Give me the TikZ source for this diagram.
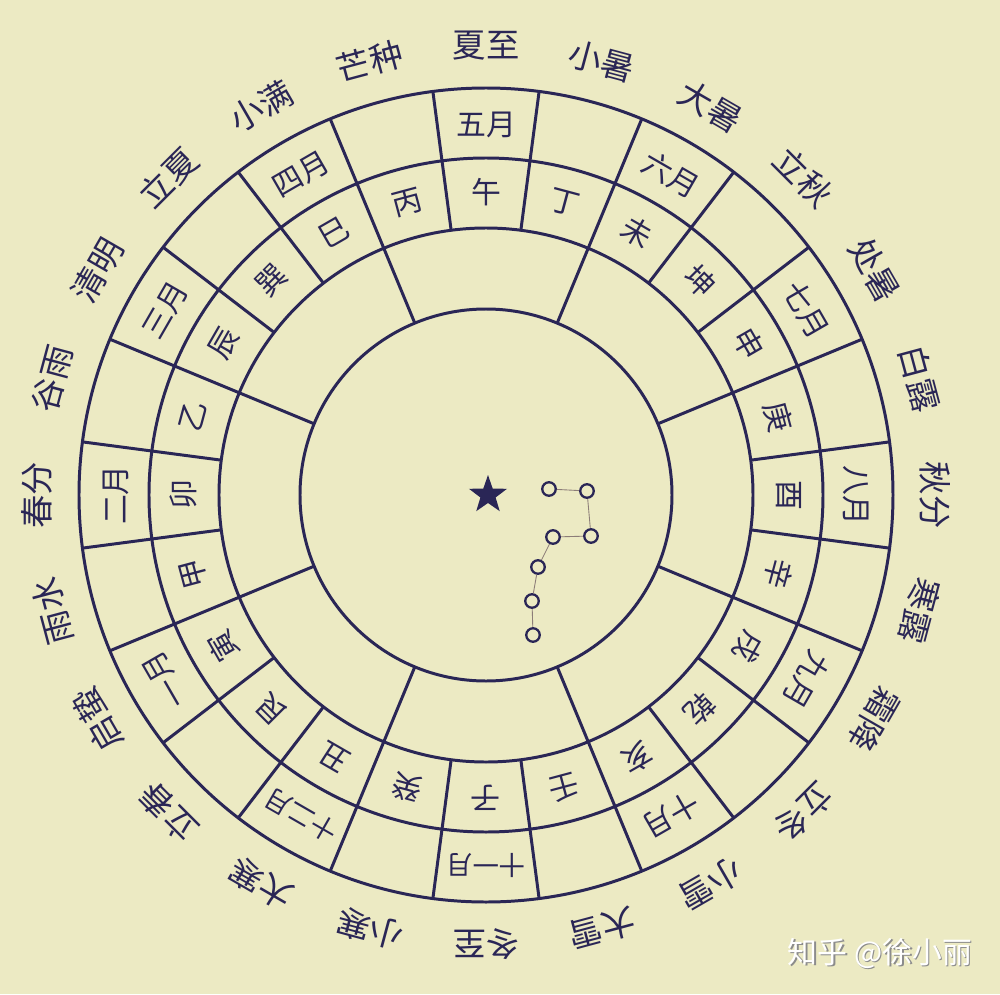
\documentclass[tikz,border=0pt]{standalone}
\usepackage{fontspec}
\setmainfont{Noto Sans CJK SC}
\usetikzlibrary{shapes.geometric}
\definecolor{tlo}{RGB}{236,234,195}
\definecolor{tusz}{RGB}{42,38,86}
\definecolor{kreska}{RGB}{140,125,120}

\begin{document}
\begin{tikzpicture}[x=0.02cm, y=0.02cm, line width=1.7pt, color=tusz,
    qi/.style={font=\fontsize{19}{19}\selectfont, inner sep=0pt},
    yue/.style={inner sep=0pt},
    shan/.style={font=\fontsize{17}{17}\selectfont, inner sep=0pt},
    xing/.style={circle, draw, line width=1.3pt, fill=tlo, minimum size=0.27cm, inner sep=0pt}]
  % 背景
  \fill[tlo] (-486,495) rectangle (514,-499);
  \useasboundingbox (-486,495) rectangle (514,-499);

  % 圆圈
  \foreach \r in {186,267,337,407}
    \draw (0,0) circle[radius=\r];

  % 分隔线
  \foreach \a in {7.5,22.5,...,352.5}
    \draw (\a:267) -- (\a:407);
  \foreach \a in {22.5,67.5,...,337.5}
    \draw (\a:186) -- (\a:267);

  % 二十四山
  \foreach \z [count=\i from 0] in {午,丁,未,坤,申,庚,酉,辛,戌,乾,亥,壬,子,癸,丑,艮,寅,甲,卯,乙,辰,巽,巳,丙}
    \node (shan-\i) [shan, rotate=-15*\i] at ({90-15*\i}:303) {\z};

  % 月份
  \foreach \m/\s [count=\i from 0] in {五月/17,六月/17,七月/17,八月/17,九月/17,十月/17,十一月/15,十二月/15,一月/17,二月/17,三月/17,四月/17}
    \node (yue-\i) [yue, font=\fontsize{\s}{\s}\selectfont, rotate=-30*\i] at ({90-30*\i}:370) {\m};

  % 节气
  \foreach \q [count=\i from 0] in {夏至,小暑,大暑,立秋,处暑,白露,秋分,寒露,霜降,立冬,小雪,大雪,冬至,小寒,大寒,立春,启蛰,雨水,春分,谷雨,清明,立夏,小满,芒种}
    \node (qi-\i) [qi, rotate=-15*\i] at ({90-15*\i}:449) {\q};

  % 北极星与北斗
  \node (beiji) [star, star points=5, star point ratio=2.5, fill=tusz, inner sep=0pt, minimum size=0.8cm] at (2,0) {};
  \node (xing-1) [xing] at (63,6) {};
  \node (xing-2) [xing] at (101,4) {};
  \node (xing-3) [xing] at (105,-41) {};
  \node (xing-4) [xing] at (67,-42) {};
  \node (xing-5) [xing] at (52,-72) {};
  \node (xing-6) [xing] at (46,-106) {};
  \node (xing-7) [xing] at (47,-140) {};
  \draw[kreska, line width=0.5pt] (xing-1) -- (xing-2) -- (xing-3) -- (xing-4) -- (xing-5) -- (xing-6) -- (xing-7);

  % 水印
  \node (znak-cien) [text=black!45, font=\fontsize{17}{17}\selectfont] at (395.5,-459.5) {知乎 @徐小丽};
  \node (znak) [text=white, font=\fontsize{17}{17}\selectfont] at (394,-458) {知乎 @徐小丽};
\end{tikzpicture}
\end{document}
